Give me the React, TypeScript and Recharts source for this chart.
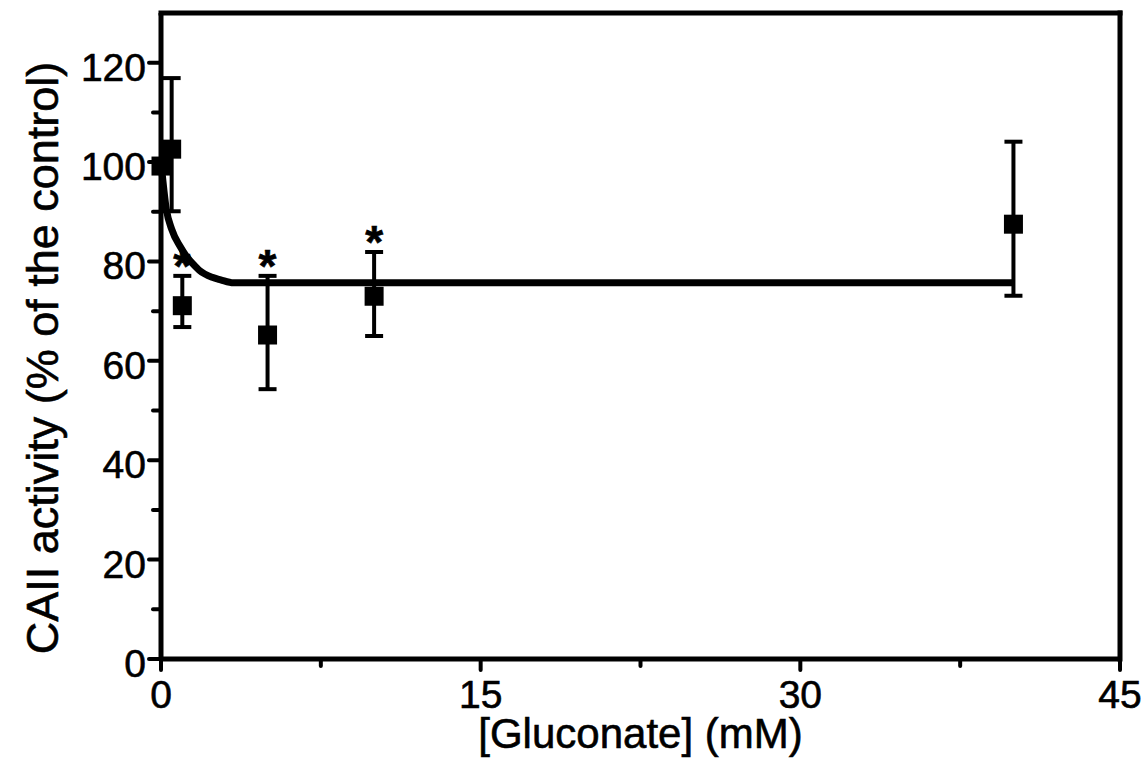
import React from 'react';
import { ComposedChart, Line, Scatter, ErrorBar, XAxis, YAxis, ReferenceLine, Label } from 'recharts';

const FONT = '"Liberation Sans", Arial, Helvetica, sans-serif';

// gluconate concentrations (mM) and measured CAII activity (% of control)
const concentrations = [0, 0.5, 1, 5, 10, 40];
const activity = [99.2, 102.6, 71.1, 65.2, 73, 87.5];
const lowerBound = [99.2, 90.1, 66.8, 54.3, 65, 73.1];
const upperBound = [99.2, 116.9, 77.1, 77.1, 81.9, 104.1];
const significant = [false, false, true, true, true, false];

// fitted curve
const fitX = [0, 0.25, 0.5, 0.9, 1.2, 1.5, 1.8, 2.4, 2.8, 3.4, 10, 20, 30, 40];
const fitY = [100, 90.5, 86.5, 83, 81, 79.5, 78.2, 76.8, 76.3, 75.7, 75.7, 75.7, 75.7, 75.7];

const xTicks = [0, 7.5, 15, 22.5, 30, 37.5, 45];
const xLabels = [0, 15, 30, 45];
const yTicks = [0, 10, 20, 30, 40, 50, 60, 70, 80, 90, 100, 110, 120];
const yLabels = [0, 20, 40, 60, 80, 100, 120];

const points = concentrations.map((x, i) => ({
  x,
  y: activity[i],
  err: [activity[i] - lowerBound[i], upperBound[i] - activity[i]],
}));

const fit = fitX.map((x, i) => ({ x, y: fitY[i] }));

const stars = concentrations
  .map((x, i) => ({ x, y: upperBound[i], show: significant[i] }))
  .filter((d) => d.show);

const textStyle = { fontFamily: FONT, fill: '#000', stroke: '#000', strokeWidth: 0.6 };

function XTick(props: any) {
  const { x, y, payload } = props;
  const major = xLabels.includes(payload.value);
  return (
    <g>
      <line x1={x} x2={x} y1={y} y2={y + (major ? 11 : 7)} stroke="#000" strokeWidth={4} strokeLinecap="round" />
      {major && (
        <text x={x} y={y + 49} textAnchor="middle" fontSize={39} {...textStyle}>
          {payload.value}
        </text>
      )}
    </g>
  );
}

function YTick(props: any) {
  const { x, y, payload } = props;
  const major = yLabels.includes(payload.value);
  return (
    <g>
      <line x1={x} x2={x - (major ? 12 : 8)} y1={y} y2={y} stroke="#000" strokeWidth={4} strokeLinecap="round" />
      {major && (
        <text x={x - 15} y={y + 18} textAnchor="end" fontSize={39} {...textStyle}>
          {payload.value}
        </text>
      )}
    </g>
  );
}

function SquareDot(props: any) {
  const { cx, cy } = props;
  return <rect x={cx - 9.5} y={cy - 9.5} width={19} height={19} fill="#000" />;
}

// significance marker above the upper error cap
function Star(props: any) {
  const { cx, cy } = props;
  return (
    <text x={cx} y={cy + 6} textAnchor="middle" fontSize={46} fontWeight="bold" {...textStyle}>
      *
    </text>
  );
}

export default function App() {
  return (
    <div style={{ position: 'absolute', left: 0, top: 0, background: '#fff' }}>
      <ComposedChart width={1144} height={759} margin={{ top: 13, right: 24, bottom: 0, left: 0 }}>
        <XAxis
          type="number"
          dataKey="x"
          domain={[0, 45]}
          ticks={xTicks}
          interval={0}
          height={100}
          tickSize={0}
          tickMargin={0}
          tickLine={false}
          axisLine={{ stroke: '#000', strokeWidth: 5 }}
          tick={<XTick />}
        >
          <Label
            content={(p: any) => {
              const vb = p.viewBox;
              return (
                <text x={vb.x + vb.width / 2} y={vb.y + 89} textAnchor="middle" fontSize={42} {...textStyle}>
                  [Gluconate] (mM)
                </text>
              );
            }}
          />
        </XAxis>
        <YAxis
          type="number"
          domain={[0, 130]}
          ticks={yTicks}
          interval={0}
          width={161}
          tickSize={0}
          tickMargin={0}
          tickLine={false}
          axisLine={{ stroke: '#000', strokeWidth: 5 }}
          tick={<YTick />}
        >
          <Label
            content={(p: any) => {
              const vb = p.viewBox;
              const cx = 58;
              const cy = vb.y + vb.height / 2 + 22;
              return (
                <text
                  x={cx}
                  y={cy}
                  transform={`rotate(-90 ${cx} ${cy})`}
                  textAnchor="middle"
                  fontSize={45}
                  {...textStyle}
                >
                  CAII activity (% of the control)
                </text>
              );
            }}
          />
        </YAxis>
        <ReferenceLine y={130} stroke="#000" strokeWidth={5} strokeLinecap="square" />
        <ReferenceLine x={45} stroke="#000" strokeWidth={5} strokeLinecap="square" />
        <Line
          data={fit}
          dataKey="y"
          type="monotone"
          stroke="#000"
          strokeWidth={7}
          dot={false}
          activeDot={false}
          isAnimationActive={false}
        />
        <Scatter data={points} dataKey="y" shape={<SquareDot />} isAnimationActive={false}>
          <ErrorBar dataKey="err" direction="y" width={9} stroke="#000" strokeWidth={4} isAnimationActive={false} />
        </Scatter>
        <Scatter data={stars} dataKey="y" shape={<Star />} isAnimationActive={false} />
      </ComposedChart>
    </div>
  );
}
